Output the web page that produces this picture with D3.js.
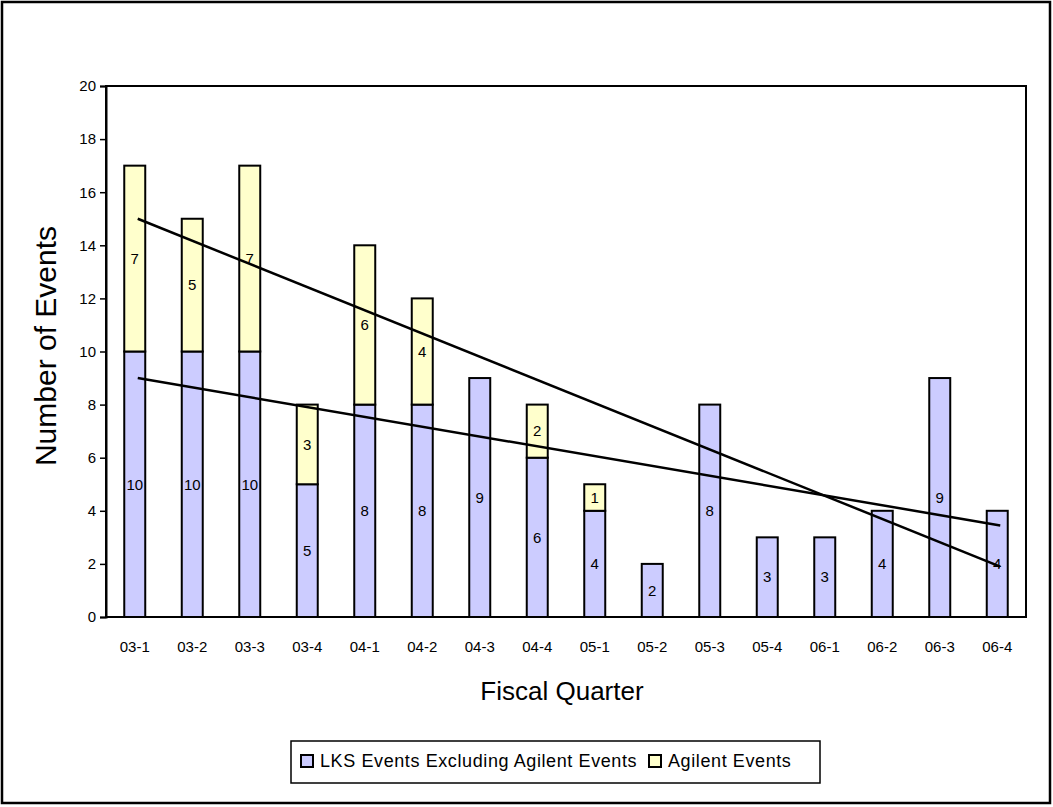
<!DOCTYPE html>
<html>
<head>
<meta charset="utf-8">
<script src="https://cdn.jsdelivr.net/npm/d3@7"></script>
<style>
  html, body { margin: 0; padding: 0; background: #fff; }
  svg { display: block; font-family: Arial, "Liberation Sans", sans-serif; }
</style>
</head>
<body>
<svg id="chart" width="1053" height="807"></svg>
<script>
// Fiscal quarters and event counts per quarter
const quarters = ["03-1","03-2","03-3","03-4","04-1","04-2","04-3","04-4","05-1","05-2","05-3","05-4","06-1","06-2","06-3","06-4"];
const lksEvents = [10,10,10,5,8,8,9,6,4,2,8,3,3,4,9,4];
const agilentEvents = [7,5,7,3,6,4,0,2,1,0,0,0,0,0,0,0];
const yTicks = [0,2,4,6,8,10,12,14,16,18,20];
const seriesNames = ["LKS Events Excluding Agilent Events", "Agilent Events"];
const seriesColors = ["#CCCCFF", "#FFFFCC"];

// Trend lines: start and end values at the first and last quarter
const trendTotal = [{ q: "03-1", v: 15.0 }, { q: "06-4", v: 1.9 }];
const trendLks = [{ q: "03-1", v: 9.0 }, { q: "06-4", v: 3.45 }];

const FONT = "Arial, 'Liberation Sans', sans-serif";
const svg = d3.select("#chart");

// Outer frame
svg.append("rect")
  .attr("x", 2).attr("y", 2).attr("width", 1048).attr("height", 801)
  .attr("fill", "#fff").attr("stroke", "#000").attr("stroke-width", 2.5);

const plot = { left: 106, right: 1026, top: 86, bottom: 617 };

const x = d3.scaleBand().domain(quarters)
  .range([plot.left, plot.right]).paddingInner(0.635).paddingOuter(0.3175);
const y = d3.scaleLinear().domain([0, 20]).range([plot.bottom, plot.top]);

// Stacked data
const rows = quarters.map((q, i) => ({ q, lks: lksEvents[i], agilent: agilentEvents[i] }));
const stack = d3.stack().keys(["lks", "agilent"])(rows);

// Plot area border
svg.append("rect")
  .attr("x", plot.left).attr("y", plot.top)
  .attr("width", plot.right - plot.left).attr("height", plot.bottom - plot.top)
  .attr("fill", "#fff").attr("stroke", "#000").attr("stroke-width", 2);

// Bars
stack.forEach((layer, li) => {
  const g = svg.append("g");
  g.selectAll("rect")
    .data(layer.filter(d => d[1] - d[0] > 0))
    .join("rect")
    .attr("x", d => x(d.data.q))
    .attr("y", d => y(d[1]))
    .attr("width", x.bandwidth())
    .attr("height", d => y(d[0]) - y(d[1]))
    .attr("fill", seriesColors[li])
    .attr("stroke", "#000")
    .attr("stroke-width", 2);
  g.selectAll("text")
    .data(layer.filter(d => d[1] - d[0] > 0))
    .join("text")
    .attr("x", d => x(d.data.q) + x.bandwidth() / 2)
    .attr("y", d => y((d[0] + d[1]) / 2))
    .attr("dy", "0.35em")
    .attr("text-anchor", "middle")
    .attr("font-size", 15)
    .attr("fill", "#000")
    .text(d => d[1] - d[0]);
});

// Trend lines
const lineGen = d3.line()
  .x(d => x(d.q) + x.bandwidth() / 2 + 3)
  .y(d => y(d.v));
[trendTotal, trendLks].forEach(t => {
  svg.append("path").datum(t)
    .attr("d", lineGen)
    .attr("fill", "none").attr("stroke", "#000").attr("stroke-width", 2.5);
});

// Y axis
const yAxis = svg.append("g")
  .attr("transform", `translate(${plot.left},0)`)
  .call(d3.axisLeft(y).tickValues(yTicks).tickSize(6).tickPadding(4));
yAxis.select(".domain").attr("stroke", "#000").attr("stroke-width", 2);
yAxis.selectAll(".tick line").attr("stroke", "#000").attr("stroke-width", 1.5);
yAxis.selectAll(".tick text").attr("font-size", 15).attr("fill", "#000")
  .attr("font-family", FONT);

// X axis labels
const xAxis = svg.append("g")
  .attr("transform", `translate(0,${plot.bottom})`)
  .call(d3.axisBottom(x).tickSize(0).tickPadding(24));
xAxis.select(".domain").remove();
xAxis.selectAll(".tick text").attr("font-size", 15).attr("fill", "#000")
  .attr("font-family", FONT);

// Axis titles
svg.append("text")
  .attr("x", 562).attr("y", 700)
  .attr("text-anchor", "middle").attr("font-size", 26)
  .text("Fiscal Quarter");
svg.append("text")
  .attr("transform", `translate(56,346) rotate(-90)`)
  .attr("text-anchor", "middle").attr("font-size", 30)
  .text("Number of Events");

// Legend
const legend = svg.append("g");
legend.append("rect")
  .attr("x", 291).attr("y", 741).attr("width", 529).attr("height", 42)
  .attr("fill", "#fff").attr("stroke", "#000").attr("stroke-width", 1.5);
const legendItems = [{ x: 301, tx: 320 }, { x: 649, tx: 668 }];
legendItems.forEach((it, i) => {
  legend.append("rect")
    .attr("x", it.x).attr("y", 755).attr("width", 12).attr("height", 12)
    .attr("fill", seriesColors[i]).attr("stroke", "#000").attr("stroke-width", 2);
  legend.append("text")
    .attr("x", it.tx).attr("y", 761).attr("dy", "0.35em")
    .attr("font-size", 18).attr("letter-spacing", 0.6).text(seriesNames[i]);
});
</script>
</body>
</html>
